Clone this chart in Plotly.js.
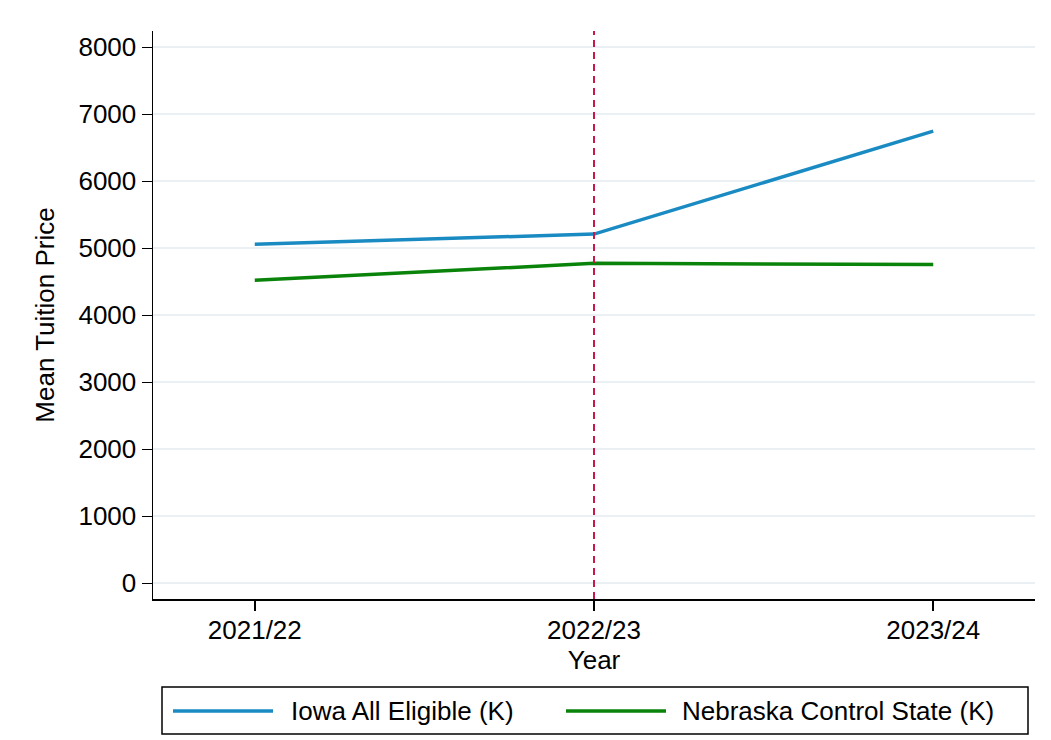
<!DOCTYPE html>
<html>
<head>
<meta charset="utf-8">
<script src="https://cdn.plot.ly/plotly-3.0.1.min.js"></script>
<style>html,body{margin:0;padding:0;background:#fff;}#chart{width:1051px;height:740px;}</style>
</head>
<body>
<div id="chart"></div>
<script>
const years = ["2021/22", "2022/23", "2023/24"];
const iowa = [5060, 5212, 6748];
const nebraska = [4522, 4775, 4757];
const seriesNames = ["Iowa All Eligible (K)", "Nebraska Control State (K)"];
const seriesColors = ["#1a8bc2", "#0a830a"];
const yTicks = [0, 1000, 2000, 3000, 4000, 5000, 6000, 7000, 8000];
const treatmentYear = "2022/23";

const FONT = "Liberation Sans, Arial, Helvetica, sans-serif";
const FS = 26;

const traces = [
  {x: years, y: iowa, name: seriesNames[0], type: "scatter", mode: "lines",
   line: {color: seriesColors[0], width: 3.5}, showlegend: false},
  {x: years, y: nebraska, name: seriesNames[1], type: "scatter", mode: "lines",
   line: {color: seriesColors[1], width: 3.5}, showlegend: false}
];

// custom legend in paper coords (plot area 153..1035 x 31..599)
const L = 153, R = 1035, T = 31, B = 599;
const px = p => (p - L) / (R - L);
const py = q => (B - q) / (B - T);

const shapes = [
  {type: "line", xref: "x", yref: "paper", x0: treatmentYear, x1: treatmentYear, y0: 0, y1: 1,
   line: {color: "#c8174a", width: 2, dash: "7px,5px"}},
  {type: "rect", xref: "paper", yref: "paper", x0: px(162), x1: px(1028), y0: py(734), y1: py(687),
   line: {color: "#000", width: 1.5}, fillcolor: "rgba(0,0,0,0)"},
  {type: "line", xref: "paper", yref: "paper", x0: px(173), x1: px(273), y0: py(711), y1: py(711),
   line: {color: seriesColors[0], width: 3.5}},
  {type: "line", xref: "paper", yref: "paper", x0: px(566), x1: px(666), y0: py(711), y1: py(711),
   line: {color: seriesColors[1], width: 3.5}}
];

const annotations = [
  {xref: "paper", yref: "paper", x: px(289), y: py(711), xanchor: "left", yanchor: "middle",
   text: seriesNames[0], showarrow: false, font: {family: FONT, size: FS, color: "#000"}},
  {xref: "paper", yref: "paper", x: px(680), y: py(711), xanchor: "left", yanchor: "middle",
   text: seriesNames[1], showarrow: false, font: {family: FONT, size: FS, color: "#000"}}
];

const layout = {
  width: 1051, height: 740,
  margin: {l: L, r: 1051 - R, t: T, b: 740 - B},
  paper_bgcolor: "#fff", plot_bgcolor: "#fff",
  font: {family: FONT, size: FS, color: "#000"},
  showlegend: false,
  xaxis: {
    type: "category", range: [-0.3, 2.3],
    showgrid: false, zeroline: false,
    showline: true, linecolor: "#000", linewidth: 1.5,
    ticks: "outside", ticklen: 10, tickwidth: 1.5, tickcolor: "#000",
    ticklabelstandoff: -3,
    tickfont: {family: FONT, size: FS, color: "#000"},
    title: {text: "Year", font: {family: FONT, size: FS, color: "#000"}, standoff: 0},
    automargin: false
  },
  yaxis: {
    range: [-234, 8243],
    tickvals: yTicks, ticktext: yTicks.map(String),
    showgrid: true, gridcolor: "#eaf0f3", gridwidth: 2,
    zeroline: false,
    showline: true, linecolor: "#000", linewidth: 1.5,
    ticks: "outside", ticklen: 10, tickwidth: 1.5, tickcolor: "#000",
    tickfont: {family: FONT, size: FS, color: "#000"},
    title: {text: "Mean Tuition Price", font: {family: FONT, size: FS, color: "#000"}, standoff: 16},
    automargin: false
  },
  shapes: shapes,
  annotations: annotations
};

Plotly.newPlot("chart", traces, layout, {displayModeBar: false, staticPlot: true});
</script>
</body>
</html>
